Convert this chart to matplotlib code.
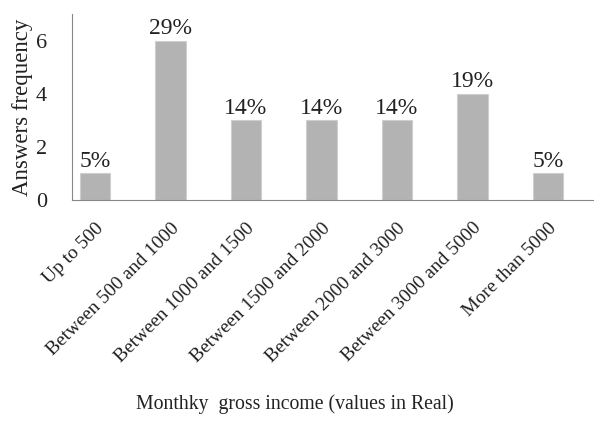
import matplotlib.pyplot as plt
import numpy as np

categories = ["Up to 500", "Between 500 and 1000", "Between 1000 and 1500",
              "Between 1500 and 2000", "Between 2000 and 3000",
              "Between 3000 and 5000", "More than 5000"]
counts = [1, 6, 3, 3, 3, 4, 1]
percent_labels = ["5%", "29%", "14%", "14%", "14%", "19%", "5%"]

plt.rcParams["font.family"] = ["Liberation Serif", "DejaVu Serif"]

fig = plt.figure(figsize=(5.94, 4.28), dpi=100)
ax = fig.add_axes([72 / 594, 1 - 200 / 428, 1 - 72 / 594, (200 - 14) / 428])

x = np.arange(len(categories))
bars = ax.bar(x, counts, width=0.4, color="#b3b3b3", edgecolor="#cfcfcf", linewidth=0.8)

for b, lab in zip(bars, percent_labels):
    ax.text(b.get_x() + b.get_width() / 2, b.get_height() + 0.05, lab,
            ha="center", va="bottom", fontsize=17, color="#222222")

ax.set_xlim(-0.305, 6.61)
ax.set_ylim(0, 7)
ax.set_yticks([0, 2, 4, 6])
ax.set_xticks(x)
ax.set_xticklabels(categories, rotation=45, ha="right", rotation_mode="anchor")
ax.tick_params(axis="both", length=0, colors="#222222")
ax.tick_params(axis="x", pad=14, labelsize=14)
ax.tick_params(axis="y", pad=18, labelsize=16)

for s in ["top", "right"]:
    ax.spines[s].set_visible(False)
ax.spines["left"].set_color("#888888")
ax.spines["bottom"].set_color("#888888")

ax.set_ylabel("Answers frequency", fontsize=16.5, color="#222222", labelpad=2)
fig.text(0.497, 1 - 404 / 428, "Monthky  gross income (values in Real)",
         ha="center", va="center", fontsize=14.2, color="#222222")

fig.savefig("out.png", dpi=100)
